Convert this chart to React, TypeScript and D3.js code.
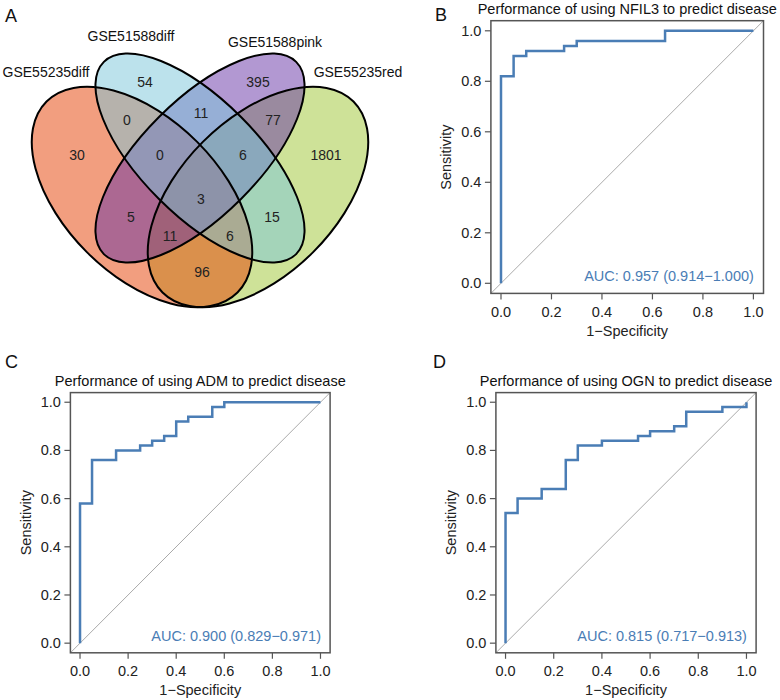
import React from "react";
import * as d3 from "d3";

// ---------------- DATA ----------------
const vennSets = ["GSE55235diff", "GSE51588diff", "GSE51588pink", "GSE55235red"];
const vennRegionKeys = ["1", "2", "3", "4", "12", "23", "34", "123", "234", "1234", "13", "24", "134", "124", "14"];
const vennCounts = [30, 54, 395, 1801, 0, 11, 77, 0, 6, 3, 5, 15, 11, 6, 96];

const tickValues = [0, 0.2, 0.4, 0.6, 0.8, 1.0];

const nfil3Fpr = [0, 0, 0.05, 0.05, 0.10, 0.10, 0.25, 0.25, 0.30, 0.30, 0.65, 0.65, 1.00];
const nfil3Tpr = [0, 0.82, 0.82, 0.90, 0.90, 0.92, 0.92, 0.94, 0.94, 0.96, 0.96, 1.00, 1.00];

const admFpr = [0, 0, 0.05, 0.05, 0.15, 0.15, 0.25, 0.25, 0.30, 0.30, 0.35, 0.35, 0.40, 0.40, 0.45, 0.45, 0.55, 0.55, 0.60, 0.60, 1.00];
const admTpr = [0, 0.58, 0.58, 0.76, 0.76, 0.80, 0.80, 0.82, 0.82, 0.84, 0.84, 0.86, 0.86, 0.92, 0.92, 0.94, 0.94, 0.98, 0.98, 1.00, 1.00];

const ognFpr = [0, 0, 0.05, 0.05, 0.15, 0.15, 0.25, 0.25, 0.30, 0.30, 0.40, 0.40, 0.55, 0.55, 0.60, 0.60, 0.70, 0.70, 0.75, 0.75, 0.90, 0.90, 1.00, 1.00];
const ognTpr = [0, 0.54, 0.54, 0.60, 0.60, 0.64, 0.64, 0.76, 0.76, 0.82, 0.82, 0.84, 0.84, 0.86, 0.86, 0.88, 0.88, 0.90, 0.90, 0.96, 0.96, 0.98, 0.98, 1.00];

const rocTitles = [
  "Performance of using NFIL3 to predict disease",
  "Performance of using ADM to predict disease",
  "Performance of using OGN to predict disease",
];
const aucLabels = [
  "AUC: 0.957 (0.914\u22121.000)",
  "AUC: 0.900 (0.829\u22120.971)",
  "AUC: 0.815 (0.717\u22120.913)",
];
const panelLetters = ["A", "B", "C", "D"];

// ---------------- LAYOUT / STYLE ----------------
const FONT = "'Liberation Sans', Arial, Helvetica, sans-serif";
const ROC_BLUE = "#4a7db5";

// Venn geometry (pixel space of panel A)
const vennEllipses = [
  { cx: 142, cy: 197, rx: 135, ry: 78, rot: 45 },
  { cx: 200, cy: 158, rx: 136, ry: 58, rot: 45 },
  { cx: 200, cy: 158, rx: 136, ry: 58, rot: -45 },
  { cx: 258, cy: 197, rx: 135, ry: 78, rot: -45 },
];
const vennFills = ["rgb(229,62,0)", "rgb(121,197,217)", "rgb(101,49,165)", "rgb(157,197,49)"];
const vennDrawOrder = [3, 0, 2, 1];
const vennLabelPos: Record<string, [number, number]> = {
  "1": [77, 155], "2": [145, 82], "3": [258, 82], "4": [326, 155],
  "12": [127, 120], "23": [201, 113], "34": [273, 120],
  "123": [160, 155], "234": [243, 155], "1234": [201, 199],
  "13": [131, 217], "24": [272, 217], "134": [170, 236], "124": [230, 236], "14": [202, 272],
};
const vennSetLabelPos: [number, number][] = [[46, 77.3], [131, 40.7], [275, 47], [358, 77.3]];

const rocPanels = [
  { fpr: nfil3Fpr, tpr: nfil3Tpr, frameL: 490.9, frameR: 763.5, frameT: 20.7, frameB: 293.4, letterX: 435, letterY: 20.7 },
  { fpr: admFpr, tpr: admTpr, frameL: 70.4, frameR: 330.1, frameT: 392.6, frameB: 652.8, letterX: 5, letterY: 368.3 },
  { fpr: ognFpr, tpr: ognTpr, frameL: 495.9, frameR: 756.1, frameT: 392.6, frameB: 652.8, letterX: 433, letterY: 368.3 },
];

function RocPanel({ idx }: { idx: number }) {
  const p = rocPanels[idx];
  const x = d3.scaleLinear().domain([-0.04, 1.04]).range([p.frameL, p.frameR]);
  const y = d3.scaleLinear().domain([-0.04, 1.04]).range([p.frameB, p.frameT]);
  const pts: [number, number][] = p.fpr.map((f, i) => [f, p.tpr[i]]);
  const line = d3.line<[number, number]>().x((d) => x(d[0])).y((d) => y(d[1]));
  const fmt = d3.format(".1f");
  const axisCol = "#555";
  const yMid = (p.frameT + p.frameB) / 2;
  return (
    <g fontFamily={FONT}>
      <text x={p.letterX} y={p.letterY} fontSize={18} fill="#111">{panelLetters[idx + 1]}</text>
      <text x={x(0.5)} y={p.frameT - 7} fontSize={14.5} textAnchor="middle" fill="#111">{rocTitles[idx]}</text>
      <line x1={x(-0.04)} y1={y(-0.04)} x2={x(1.04)} y2={y(1.04)} stroke="#aaa" strokeWidth={1} />
      <path d={line(pts) || ""} fill="none" stroke={ROC_BLUE} strokeWidth={2.5} strokeLinejoin="miter" />
      <rect x={p.frameL} y={p.frameT} width={p.frameR - p.frameL} height={p.frameB - p.frameT} fill="none" stroke={axisCol} strokeWidth={1.5} />
      {tickValues.map((t) => (
        <g key={"x" + t}>
          <line x1={x(t)} x2={x(t)} y1={p.frameB} y2={p.frameB + 6} stroke={axisCol} strokeWidth={1.2} />
          <text x={x(t)} y={p.frameB + 23.5} fontSize={14.5} textAnchor="middle" fill="#222">{fmt(t)}</text>
        </g>
      ))}
      {tickValues.map((t) => (
        <g key={"y" + t}>
          <line x1={p.frameL - 6} x2={p.frameL} y1={y(t)} y2={y(t)} stroke={axisCol} strokeWidth={1.2} />
          <text x={p.frameL - 9.5} y={y(t)} dy="0.35em" fontSize={14.5} textAnchor="end" fill="#222">{fmt(t)}</text>
        </g>
      ))}
      <text x={x(0.5)} y={p.frameB + 42.5} fontSize={14.5} textAnchor="middle" fill="#222">1{"\u2212"}Specificity</text>
      <text transform={`translate(${p.frameL - 39.5},${yMid}) rotate(-90)`} fontSize={14.5} textAnchor="middle" fill="#222">Sensitivity</text>
      <text x={x(1) + 0.5} y={y(0) - 2} fontSize={14.5} textAnchor="end" fill={ROC_BLUE}>{aucLabels[idx]}</text>
    </g>
  );
}

function Venn() {
  return (
    <g fontFamily={FONT}>
      <text x={5} y={21.7} fontSize={18} fill="#111">{panelLetters[0]}</text>
      {vennDrawOrder.map((i) => {
        const e = vennEllipses[i];
        return (
          <ellipse key={"f" + i} cx={e.cx} cy={e.cy} rx={e.rx} ry={e.ry}
            transform={`rotate(${e.rot} ${e.cx} ${e.cy})`} fill={vennFills[i]} fillOpacity={0.5} stroke="none" />
        );
      })}
      {vennEllipses.map((e, i) => (
        <ellipse key={"s" + i} cx={e.cx} cy={e.cy} rx={e.rx} ry={e.ry}
          transform={`rotate(${e.rot} ${e.cx} ${e.cy})`} fill="none" stroke="#000" strokeWidth={2} />
      ))}
      {vennRegionKeys.map((k, i) => (
        <text key={k} x={vennLabelPos[k][0]} y={vennLabelPos[k][1]} dy="0.35em" fontSize={14} textAnchor="middle" fill="#222">
          {vennCounts[i]}
        </text>
      ))}
      {vennSets.map((s, i) => (
        <text key={s} x={vennSetLabelPos[i][0]} y={vennSetLabelPos[i][1]} fontSize={14} textAnchor="middle" fill="#111">{s}</text>
      ))}
    </g>
  );
}

export default function App() {
  return (
    <svg width={780} height={700} viewBox="0 0 780 700"
      style={{ position: "absolute", left: 0, top: 0, background: "#fff" }}>
      <rect x={0} y={0} width={780} height={700} fill="#fff" />
      <Venn />
      {rocPanels.map((_, i) => <RocPanel key={i} idx={i} />)}
    </svg>
  );
}
